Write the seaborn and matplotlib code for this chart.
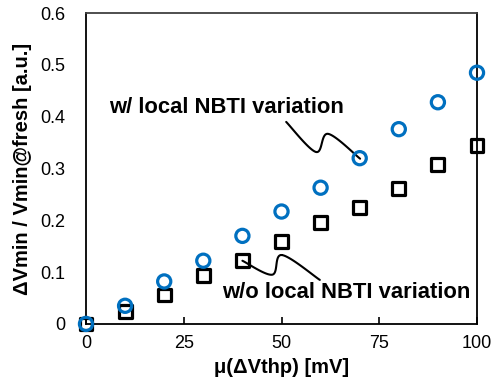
import numpy as np
import pandas as pd
import matplotlib
matplotlib.use("Agg")
import matplotlib.pyplot as plt
import seaborn as sns

# ---- data ----
mu_vthp = [0, 10, 20, 30, 40, 50, 60, 70, 80, 90, 100]
with_local = [0.0, 0.035, 0.082, 0.122, 0.170, 0.217, 0.263, 0.320, 0.376, 0.428, 0.485]
without_local = [0.0, 0.024, 0.056, 0.093, 0.122, 0.159, 0.196, 0.225, 0.261, 0.308, 0.344]
x_ticks = [0, 25, 50, 75, 100]
y_ticks = [0, 0.1, 0.2, 0.3, 0.4, 0.5, 0.6]
y_tick_labels = ["0", "0.1", "0.2", "0.3", "0.4", "0.5", "0.6"]
label_with = "w/ local NBTI variation"
label_without = "w/o local NBTI variation"

sns.set_theme(style="white")
plt.rcParams['font.family'] = ['Liberation Sans', 'DejaVu Sans']
plt.rcParams['text.color'] = 'black'
plt.rcParams['axes.labelcolor'] = 'black'
plt.rcParams['xtick.color'] = 'black'
plt.rcParams['ytick.color'] = 'black'

df_w = pd.DataFrame({"x": mu_vthp, "y": with_local})
df_wo = pd.DataFrame({"x": mu_vthp, "y": without_local})

fig = plt.figure(figsize=(5.0, 3.87), dpi=100)
ax = fig.add_axes([0.172, 0.163, 0.782, 0.803])

sns.scatterplot(data=df_wo, x="x", y="y", ax=ax, marker="s", s=85,
                facecolor="none", edgecolor="black", linewidth=2.3,
                clip_on=False, zorder=3)
sns.scatterplot(data=df_w, x="x", y="y", ax=ax, marker="o", s=90,
                facecolor="none", edgecolor="#0070C0", linewidth=2.3,
                clip_on=False, zorder=4)

ax.set_xlim(0, 100)
ax.set_ylim(0, 0.6)
ax.set_xticks(x_ticks)
ax.set_xticklabels([str(t) for t in x_ticks])
ax.set_yticks(y_ticks)
ax.set_yticklabels(y_tick_labels)
ax.tick_params(axis="x", direction="in", length=5, width=1.2, colors="black",
               labelsize=13, pad=8, bottom=True)
ax.tick_params(axis="y", length=0, labelsize=13, pad=15, colors="black")
for s in ax.spines.values():
    s.set_color("black")
    s.set_linewidth(1.3)
ax.spines["top"].set_color("#404040")

ax.set_xlabel("μ(ΔVthp) [mV]", fontsize=14.5, fontweight="bold", labelpad=4)
ax.set_ylabel("ΔVmin / Vmin@fresh [a.u.]", fontsize=14.5, fontweight="bold", labelpad=6)


def smooth_curve(pts, n=30):
    pts = np.asarray(pts, dtype=float)
    p = np.vstack([pts[0], pts, pts[-1]])
    out = []
    for i in range(1, len(p) - 2):
        p0, p1, p2, p3 = p[i - 1], p[i], p[i + 1], p[i + 2]
        t = np.linspace(0, 1, n)[:, None]
        seg = 0.5 * ((2 * p1) + (-p0 + p2) * t + (2 * p0 - 5 * p1 + 4 * p2 - p3) * t ** 2
                     + (-p0 + 3 * p1 - 3 * p2 + p3) * t ** 3)
        out.append(seg)
    return np.vstack(out)


# connector 1 (w/)
c1 = smooth_curve([(51.2, 0.390), (58.8, 0.332), (61.9, 0.367), (70.1, 0.319)])
ax.plot(c1[:, 0], c1[:, 1], color="black", lw=1.5, zorder=2)
# connector 2 (w/o)
c2 = smooth_curve([(40.0, 0.122), (47.6, 0.095), (50.1, 0.133), (59.8, 0.085)])
ax.plot(c2[:, 0], c2[:, 1], color="black", lw=1.5, zorder=2)

ax.text(6.0, 0.417, label_with, fontsize=15.8, fontweight="bold", va="center", ha="left")
ax.text(98.3, 0.061, label_without, fontsize=15.8, fontweight="bold", va="center", ha="right")

fig.savefig("out.png", dpi=100)
